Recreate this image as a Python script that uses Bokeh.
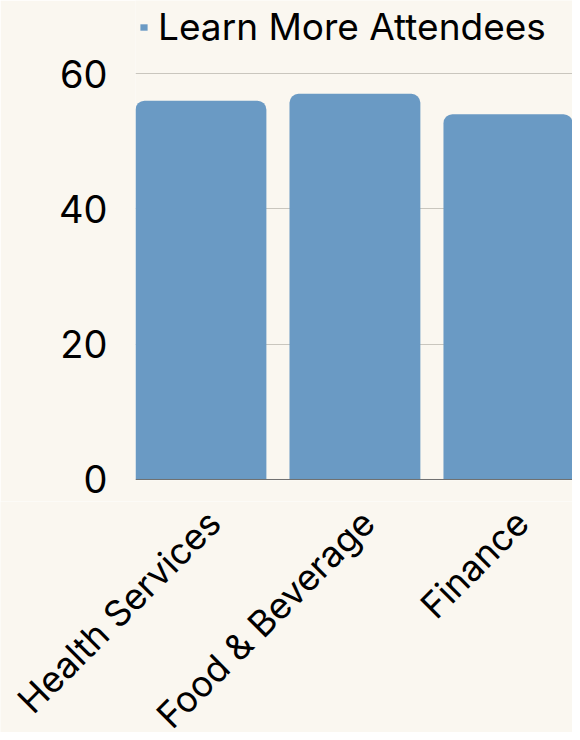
import math
from bokeh.plotting import figure
from bokeh.models import (ColumnDataSource, FixedTicker, Range1d, Legend,
                          LegendItem, Span)
from bokeh.core.properties import value
from bokeh.embed import file_html
from bokeh.resources import INLINE

categories = ["Health Services", "Food & Beverage", "Finance"]
attendees = [56, 57, 54]
series_name = "Learn More Attendees"
y_ticks = [0, 20, 40, 60]

BG = "#faf7f0"
BAR = "#6a9ac4"
FONT = "Inter"

W = 572
FRAME_H = 480
TOP_H = 501
BOT_H = 732 - TOP_H
LEFT = 135
X0, X1 = -0.425, 2.413
PX_PER_X = (W - LEFT) / (X1 - X0)

xs = list(range(len(categories)))
src = ColumnDataSource(dict(x=xs, top=attendees, label=categories))

# ---- main chart ----
p = figure(width=W, height=TOP_H, output_backend="svg", toolbar_location=None,
           x_range=Range1d(X0, X1), y_range=Range1d(-0.15, 70.8),
           min_border_left=LEFT, min_border_right=0, min_border_top=0,
           min_border_bottom=TOP_H - FRAME_H)
p.background_fill_color = BG
p.border_fill_color = BG
p.outline_line_color = None

r = p.vbar(x="x", top="top", width=0.85, bottom=0, source=src,
           fill_color=BAR, line_color=None, border_radius=(9, 9, 0, 0))

p.xgrid.visible = False
p.ygrid.ticker = FixedTicker(ticks=y_ticks[1:])
p.ygrid.grid_line_color = "#c9c6be"
p.ygrid.grid_line_width = 1

p.yaxis.ticker = FixedTicker(ticks=y_ticks)
p.yaxis.axis_line_color = None
p.yaxis.major_tick_line_color = None
p.yaxis.minor_tick_line_color = None
p.yaxis.major_tick_out = 0
p.yaxis.major_label_standoff = 28
p.yaxis.major_label_text_font = FONT
p.yaxis.major_label_text_font_size = "38px"
p.yaxis.major_label_text_color = "#000000"

p.xaxis.visible = False
p.add_layout(Span(location=0, dimension="width", line_color="#707070",
                  line_width=1))

legend = Legend(items=[LegendItem(label=series_name, renderers=[r])],
                location="top_left", margin=4, padding=0,
                glyph_width=9, glyph_height=8, label_standoff=10,
                label_text_font=FONT, label_text_font_size="37px",
                label_text_color="#000000",
                background_fill_alpha=0, border_line_color=None)
p.add_layout(legend)

# ---- category labels strip (same x scale, full width) ----
q = figure(width=W, height=BOT_H, output_backend="svg", toolbar_location=None,
           x_range=Range1d(X0 - LEFT / PX_PER_X, X1),
           y_range=Range1d(BOT_H, 0),
           min_border_left=0, min_border_right=0, min_border_top=0,
           min_border_bottom=0)
q.background_fill_color = BG
q.border_fill_color = BG
q.outline_line_color = None
q.axis.visible = False
q.grid.visible = False
q.text(x="x", y=516 - TOP_H, text="label", source=src, x_offset=13,
       angle=math.pi / 4, text_align="right", text_baseline="middle",
       text_font=value(FONT), text_font_size=value("36px"),
       text_color="#000000")

html = file_html([p, q], INLINE)
html = html.replace("<body>", '<body style="background:%s">' % BG, 1)
open("out.html", "w").write(html)
